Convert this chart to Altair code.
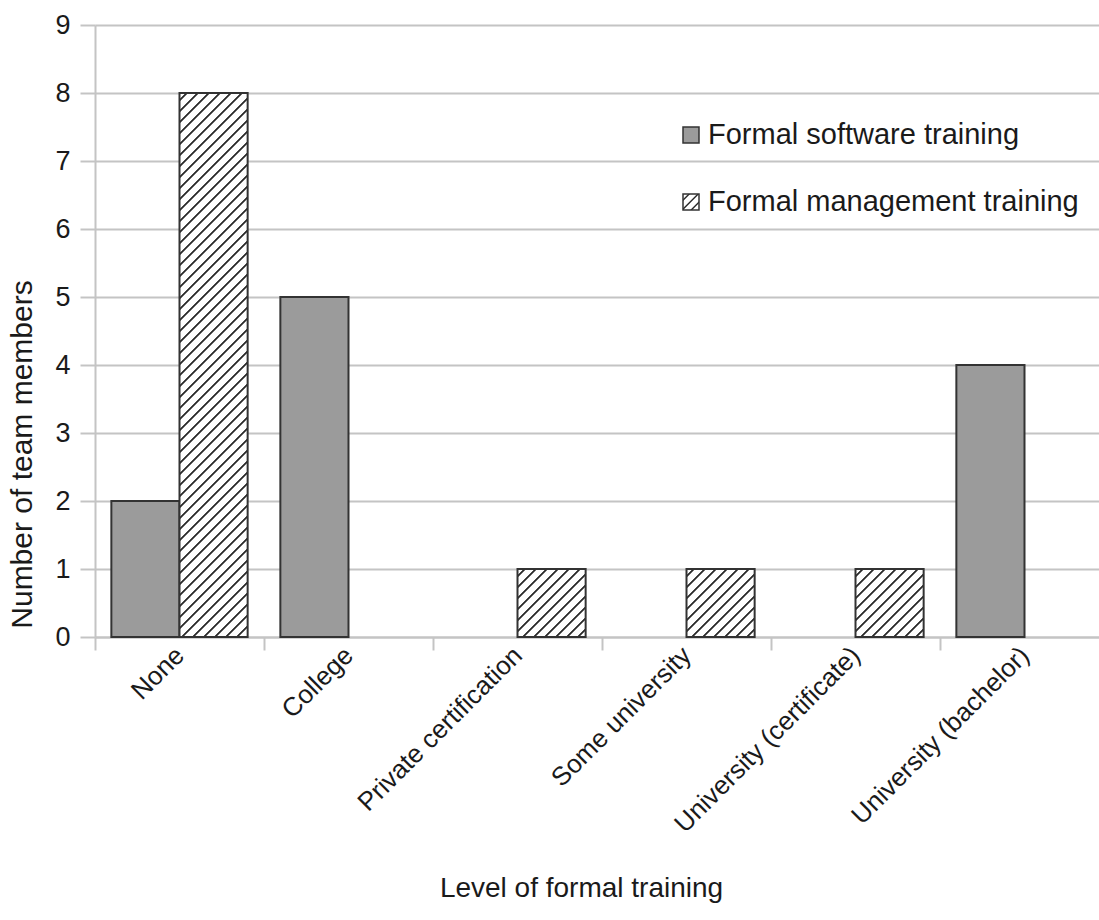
import altair as alt
import pandas as pd

# ---- data -----------------------------------------------------------------
categories = [
    "None",
    "College",
    "Private certification",
    "Some university",
    "University (certificate)",
    "University (bachelor)",
]
series = ["Formal software training", "Formal management training"]
software = [2, 5, 0, 0, 0, 4]
management = [8, 0, 1, 1, 1, 0]
y_ticks = list(range(0, 10))

rows = []
for cat, s, m in zip(categories, software, management):
    rows.append({"category": cat, "series": series[0], "value": s})
    rows.append({"category": cat, "series": series[1], "value": m})
df = pd.DataFrame(rows)
legend_df = pd.DataFrame({"series": series})

# ---- styling --------------------------------------------------------------
FONT = "Liberation Sans"
TEXT = "#1a1a1a"
GRID = "#c4c4c4"
SOLID = "#9b9b9b"
EDGE = "#333333"

PLOT_W, PLOT_H = 1004, 612
BAND_STEP = 169          # category band; the last band runs past the right edge
X_RANGE = BAND_STEP * len(categories)
Y_MAX = 9
UNIT_PX = PLOT_H / Y_MAX
OFFSET_PAD = 0.24
BAR_W = BAND_STEP / (len(series) + 2 * OFFSET_PAD)


def hatch(w, h, period=11.0, line=1.7, ink="#2a2a2a", paper="#ffffff"):
    """Linear gradient with hard stops that draws '/' diagonal hatching
    inside a w x h box (gradient coordinates are bounding-box relative)."""
    span = w + h
    k = span / (w * w + h * h)
    stops = [{"offset": 0, "color": paper}]
    s = period * 0.6
    while s + line + 0.6 < span:
        for pos, col in ((s - 0.6, paper), (s, ink), (s + line, ink), (s + line + 0.6, paper)):
            stops.append({"offset": round(pos / span, 5), "color": col})
        s += period
    stops.append({"offset": 1, "color": paper})
    return {
        "gradient": "linear",
        "x1": 0, "y1": 0,
        "x2": round(w * k, 5), "y2": round(h * k, 5),
        "stops": stops,
    }


x_enc = alt.X(
    "category:N",
    sort=categories,
    scale=alt.Scale(domain=categories, range=[0, X_RANGE], paddingInner=0, paddingOuter=0),
    title="Level of formal training",
    axis=alt.Axis(
        tickBand="extent",
        labelAngle=-45,
        labelAlign="right",
        labelBaseline="middle",
        labelOverlap=False,
        labelLimit=500,
        labelPadding=1,
        labelFontSize=26,
        tickSize=13,
        tickWidth=2,
        tickColor=GRID,
        domainColor=GRID,
        domainWidth=2,
        grid=False,
        titleFontSize=28,
        titleX=486,
        titleY=251,
        titleAlign="center",
        titleBaseline="middle",
    ),
)
xoff_enc = alt.XOffset(
    "series:N",
    scale=alt.Scale(domain=series, paddingInner=0, paddingOuter=OFFSET_PAD),
)
y_enc = alt.Y(
    "value:Q",
    scale=alt.Scale(domain=[0, Y_MAX], nice=False),
    title="Number of team members",
    axis=alt.Axis(
        values=y_ticks,
        grid=True,
        gridColor=GRID,
        gridWidth=2,
        tickSize=15,
        tickWidth=2,
        tickColor=GRID,
        domainColor=GRID,
        domainWidth=2,
        labelPadding=10,
        labelFontSize=27,
        titleFontSize=30,
        titleX=-73,
        titleY=429,
        titleAlign="center",
        titleBaseline="middle",
    ),
)

base = alt.Chart(df).encode(x=x_enc, xOffset=xoff_enc, y=y_enc)

layers = [
    base.transform_filter(
        (alt.datum.series == series[0]) & (alt.datum.value > 0)
    ).mark_bar(fill=SOLID, stroke=EDGE, strokeWidth=2)
]

# hatched bars: one layer per bar height so the hatch keeps its 45° angle
for v in sorted({m for m in management if m > 0}):
    layers.append(
        base.transform_filter(
            (alt.datum.series == series[1]) & (alt.datum.value == v)
        ).mark_bar(fill=hatch(BAR_W, v * UNIT_PX), stroke=EDGE, strokeWidth=2)
    )

# legend drawn inside the plot, top right
LEG_SYMBOL_X = 596
LEG_TEXT_X = 613
LEG_ROWS_Y = [110, 177]
SYM = 16
symbol_fills = [SOLID, hatch(SYM, SYM, period=9.0, line=1.4)]

for name, fill, ly in zip(series, symbol_fills, LEG_ROWS_Y):
    item = alt.Chart(legend_df).transform_filter(alt.datum.series == name)
    layers.append(
        item.mark_square(size=SYM * SYM, fill=fill, stroke=EDGE, strokeWidth=1.5, opacity=1).encode(
            x=alt.value(LEG_SYMBOL_X), y=alt.value(ly)
        )
    )
    layers.append(
        item.mark_text(
            align="left", baseline="middle", font=FONT, fontSize=29, color=TEXT
        ).encode(x=alt.value(LEG_TEXT_X), y=alt.value(ly), text="series:N")
    )

chart = (
    alt.layer(*layers)
    .properties(
        width=PLOT_W,
        height=PLOT_H,
        autosize=alt.AutoSizeParams(type="none"),
        padding={"left": 95, "top": 25, "right": 0, "bottom": 283},
        background="white",
    )
    .configure_view(stroke=None)
    .configure_axis(
        labelFont=FONT,
        labelColor=TEXT,
        titleFont=FONT,
        titleFontWeight="normal",
        titleColor=TEXT,
    )
)

chart.save("out.html", embed_options={"renderer": "svg", "actions": False})
